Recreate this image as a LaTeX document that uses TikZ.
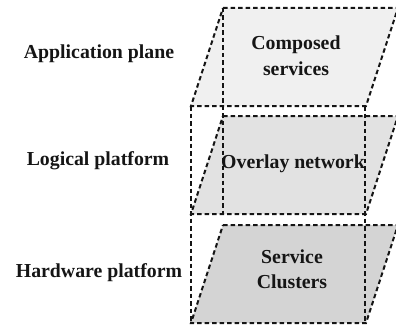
\documentclass[tikz,border=0pt]{standalone}
\usepackage{fontspec}
\setmainfont{Liberation Serif}
\definecolor{planeA}{HTML}{F0F0F0}
\definecolor{planeB}{HTML}{E2E2E2}
\definecolor{planeC}{HTML}{D4D4D4}
\definecolor{ink}{HTML}{151515}
\begin{document}
\begin{tikzpicture}[x=1pt,y=-1pt,
  edge/.style={draw=ink, line width=2pt, dash pattern=on 4.5pt off 3pt},
  lbl/.style={font=\bfseries\fontsize{19.8}{23}\selectfont, text=ink, anchor=base, inner sep=0pt}]
\useasboundingbox (0,0) rectangle (396,329);

% plane fills
\fill[planeA] (223,8) -- (398,8) -- (366,106) -- (191,106) -- cycle;
\fill[planeB] (223,116) -- (398,116) -- (366,214) -- (191,214) -- cycle;
\fill[planeC] (223,225) -- (398,225) -- (366,323) -- (191,323) -- cycle;

% planes
\draw[edge] (223,8) -- (398,8) -- (366,106) -- (191,106) -- cycle;
\draw[edge] (223,116) -- (398,116) -- (366,214) -- (191,214) -- cycle;
\draw[edge] (223,225) -- (398,225) -- (366,323) -- (191,323) -- cycle;

% vertical edges of the stack
\draw[edge] (191,106) -- (191,323);
\draw[edge] (365,106) -- (365,323);
\draw[edge] (223,8) -- (223,214);

% layer names
\node[lbl] (app) at (99,59) {Application plane};
\node[lbl] (log) at (98,165) {Logical platform};
\node[lbl] (hw) at (99,277) {Hardware platform};

% plane contents
\node[lbl] (comp1) at (296,50) {Composed};
\node[lbl] (comp2) at (296,75) {services};
\node[lbl] (overlay) at (293,168) {Overlay network};
\node[lbl] (serv1) at (292,263) {Service};
\node[lbl] (serv2) at (292,288) {Clusters};
\end{tikzpicture}
\end{document}
